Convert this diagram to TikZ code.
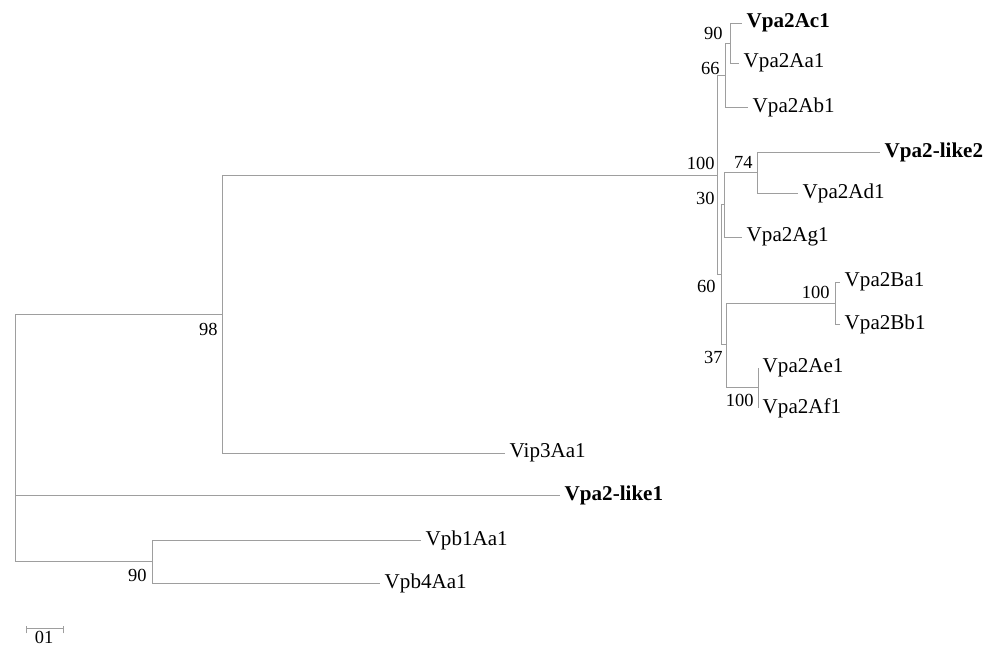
\documentclass[tikz,border=0pt]{standalone}
\usepackage{fontspec}
\setmainfont{Liberation Serif}
\usepackage{tikz}
\usetikzlibrary{positioning}

\begin{document}
\begin{tikzpicture}[
  x=0.02cm, y=-0.02cm,
  br/.style  ={draw=black!38, line width=0.5pt},
  leaf/.style={anchor=west, inner xsep=2.5pt, inner ysep=0pt, font=\fontsize{12}{14}\selectfont},
  hit/.style ={leaf, font=\fontsize{12}{14}\selectfont\bfseries},
  bs/.style  ={anchor=east, inner sep=0pt, font=\fontsize{10.5}{12}\selectfont}
]
\useasboundingbox (0,0) rectangle (985,646);

% inner nodes
\coordinate (r)    at (15,437);
\coordinate (n98)  at (222,314);
\coordinate (n100) at (717,175);
\coordinate (n66)  at (725,75);
\coordinate (n90)  at (730,43);
\coordinate (nB)   at (721,274);
\coordinate (nA)   at (724,204);
\coordinate (n74)  at (757,172);
\coordinate (nD)   at (726,344);
\coordinate (nBa)  at (835,303);
\coordinate (nAe)  at (758,387);
\coordinate (nPb)  at (152,561);

% leaves
\node[hit]  (ac1)   at (742,23)  {Vpa2Ac1};
\node[leaf] (aa1)   at (739,63)  {Vpa2Aa1};
\node[leaf] (ab1)   at (748,107) {Vpa2Ab1};
\node[hit]  (like2) at (880,152) {Vpa2-like2};
\node[leaf] (ad1)   at (798,193) {Vpa2Ad1};
\node[leaf] (ag1)   at (742,237) {Vpa2Ag1};
\node[leaf] (ba1)   at (840,282) {Vpa2Ba1};
\node[leaf] (bb1)   at (840,324) {Vpa2Bb1};
\node[leaf] (ae1)   at (758,368) {Vpa2Ae1};
\node[leaf] (af1)   at (758,408) {Vpa2Af1};
\node[leaf] (vip)   at (505,453) {Vip3Aa1};
\node[hit]  (like1) at (560,495) {Vpa2-like1};
\node[leaf] (pb1)   at (421,540) {Vpb1Aa1};
\node[leaf] (pb4)   at (380,583) {Vpb4Aa1};

% bootstrap values
\node[bs] (b90)   at (723,33)  {90};
\node[bs] (b66)   at (720,68)  {66};
\node[bs] (b100)  at (715,163) {100};
\node[bs] (b74)   at (753,162) {74};
\node[bs] (b30)   at (715,198) {30};
\node[bs] (b60)   at (716,286) {60};
\node[bs] (b37)   at (723,357) {37};
\node[bs] (b100b) at (830,292) {100};
\node[bs] (b100e) at (754,400) {100};
\node[bs] (b98)   at (218,329) {98};
\node[bs] (b90b)  at (147,575) {90};

% branches
\draw[br] (r) |- (n98);
\draw[br] (r) |- (like1.west);
\draw[br] (r) |- (nPb);
\draw[br] (n98) |- (n100);
\draw[br] (n98) |- (vip.west);
\draw[br] (n100) |- (n66);
\draw[br] (n100) |- (nB);
\draw[br] (n66) |- (n90);
\draw[br] (n66) |- (ab1.west);
\draw[br] (n90) |- (ac1.west);
\draw[br] (n90) |- (aa1.west);
\draw[br] (nB) |- (nA);
\draw[br] (nB) |- (nD);
\draw[br] (nA) |- (n74);
\draw[br] (nA) |- (ag1.west);
\draw[br] (n74) |- (like2.west);
\draw[br] (n74) |- (ad1.west);
\draw[br] (nD) |- (nBa);
\draw[br] (nD) |- (nAe);
\draw[br] (nBa) |- (ba1.west);
\draw[br] (nBa) |- (bb1.west);
\draw[br] (nAe) -- (ae1.west);
\draw[br] (nAe) -- (af1.west);
\draw[br] (nPb) |- (pb1.west);
\draw[br] (nPb) |- (pb4.west);

% scale bar
\coordinate (sa) at (26,628);
\coordinate (sb) at (63,628);
\draw[br] (sa) -- (sb);
\draw[br] ([yshift=-3pt]sa) -- ([yshift=1pt]sa);
\draw[br] ([yshift=-3pt]sb) -- ([yshift=1pt]sb);
\node[bs, anchor=center] (scl) at (44,637) {01};
\end{tikzpicture}
\end{document}
